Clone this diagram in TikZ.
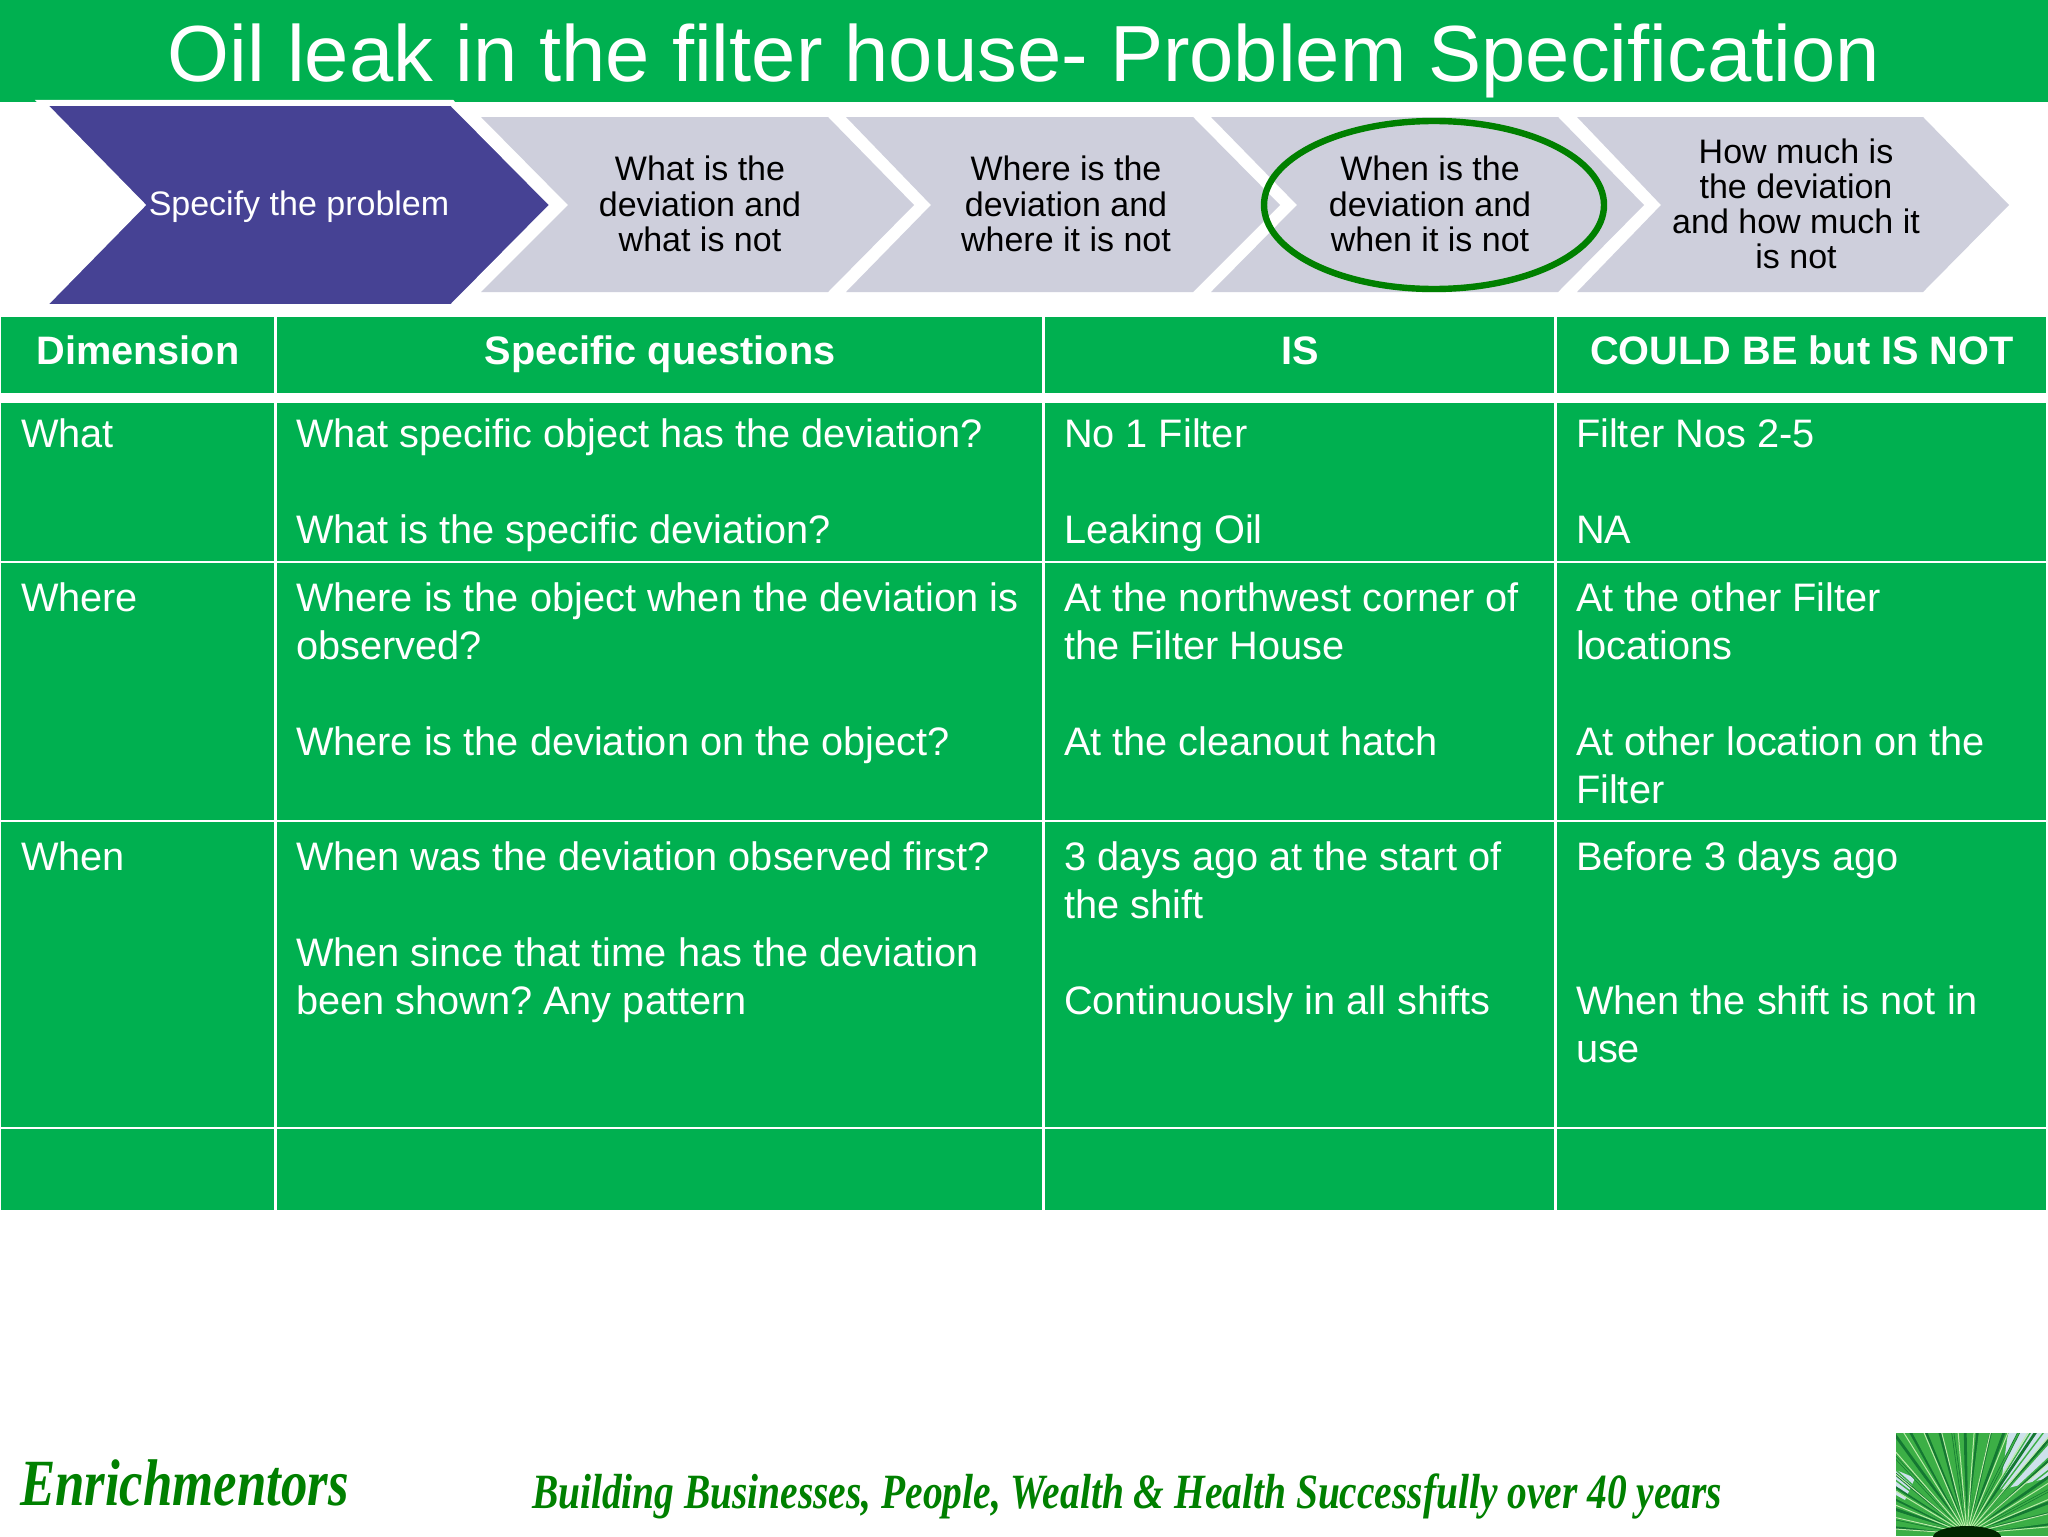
\documentclass[tikz,border=0pt]{standalone}
\usepackage{fontspec}
\setmainfont{Liberation Sans}
\newfontfamily\brushfont[FakeStretch=0.8]{Liberation Serif}
\usepackage{tikz}
\definecolor{tablegreen}{RGB}{0,176,80}
\definecolor{leafgreen}{RGB}{0,128,0}
\definecolor{stepgrey}{RGB}{206,207,220}
\definecolor{stepblue}{RGB}{70,66,148}
\definecolor{skyblue}{RGB}{205,225,235}
\definecolor{bladedark}{RGB}{20,120,50}
\definecolor{blademid}{RGB}{60,175,70}
\definecolor{bladelight}{RGB}{190,235,170}

\begin{document}
\frenchspacing
\begin{tikzpicture}[x=0.5pt,y=-0.5pt,inner sep=0pt,outer sep=0pt]
 \tikzstyle{stepfill}=[fill=stepgrey]
 \tikzstyle{steptext}=[font=\fontsize{17}{17.6}\selectfont,align=center,text=black]
 \tikzstyle{headtext}=[font=\fontsize{19.85}{23}\selectfont\bfseries,text=white,anchor=base]
 \tikzstyle{celltext}=[font=\fontsize{19.87}{23.9}\selectfont,text=white,align=left,anchor=north west]
 \tikzstyle{footertext}=[text=leafgreen,anchor=base west]
 \tikzstyle{rowline}=[white,line width=1.3pt]
 \tikzstyle{colline}=[white,line width=1.5pt]

 \useasboundingbox (0,0) rectangle (2048,1536);
 \fill[white] (0,0) rectangle (2048,1536);

 % title
 \fill[tablegreen] (0,0) rectangle (2048,102);
 \node[font=\fontsize{39.8}{46}\selectfont,text=white] (title) at (1024,61) {Oil leak in the filter house- Problem Specification};

 % steps
 \fill[stepfill] (481,117) -- (828,117) -- (914,205) -- (828,292) -- (481,292) -- (568,205) -- cycle;
 \fill[stepfill] (846,117) -- (1193,117) -- (1280,205) -- (1193,292) -- (846,292) -- (931,205) -- cycle;
 \fill[stepfill] (1211,117) -- (1558,117) -- (1644,205) -- (1558,292) -- (1211,292) -- (1297,205) -- cycle;
 \fill[stepfill] (1577,117) -- (1923,117) -- (2009,205) -- (1923,292) -- (1577,292) -- (1661,205) -- cycle;
 \filldraw[fill=stepblue,draw=white,line width=3pt,miter limit=3] (42,103) -- (452,103) -- (553,205) -- (452,307) -- (42,307) -- (142,205) -- cycle;

 \node[steptext,text=white] (specify) at (299,207) {Specify the problem};
 \node[steptext] (what) at (700,204) {What is the\\deviation and\\what is not};
 \node[steptext] (where) at (1066,204) {Where is the\\deviation and\\where it is not};
 \node[steptext] (when) at (1430,204) {When is the\\deviation and\\when it is not};
 \node[steptext] (howmuch) at (1796,204) {How much is\\the deviation\\and how much it\\is not};
 \draw[leafgreen,line width=3.2pt] (1434,205) ellipse (170 and 84);

 % table cells
 \fill[tablegreen] (1,317) rectangle (2046,393);
 \fill[tablegreen] (1,403) rectangle (2046,1210);
 \draw[rowline] (1,562) -- (2046,562);
 \draw[rowline] (1,821) -- (2046,821);
 \draw[rowline] (1,1128) -- (2046,1128);
 \draw[colline] (275,317) -- (275,393);
 \draw[colline] (1043,317) -- (1043,393);
 \draw[colline] (1555,317) -- (1555,393);
 \draw[colline] (275,403) -- (275,1210);
 \draw[colline] (1043,403) -- (1043,1210);
 \draw[colline] (1555,403) -- (1555,1210);

 % heading row
 \node[headtext] (dimension) at (138,364) {Dimension};
 \node[headtext] (questions) at (660,364) {Specific questions};
 \node[headtext] (is) at (1300,364) {IS};
 \node[headtext] (isnot) at (1802,364) {COULD BE but IS NOT};

 % what
 \node[celltext] (whatA) at (21,419) {What};
 \node[celltext] (whatB) at (296,419) {What specific object has the deviation?\\~\\What is the specific deviation?};
 \node[celltext] (whatC) at (1064,419) {No 1 Filter\\~\\Leaking Oil};
 \node[celltext] (whatD) at (1576,419) {Filter Nos 2-5\\~\\NA};
 % where
 \node[celltext] (whereA) at (21,583) {Where};
 \node[celltext] (whereB) at (296,583) {Where is the object when the deviation is\\observed?\\~\\Where is the deviation on the object?};
 \node[celltext] (whereC) at (1064,583) {At the northwest corner of\\the Filter House\\~\\At the cleanout hatch};
 \node[celltext] (whereD) at (1576,583) {At the other Filter\\locations\\~\\At other location on the\\Filter};
 % when
 \node[celltext] (whenA) at (21,842) {When};
 \node[celltext] (whenB) at (296,842) {When was the deviation observed first?\\~\\When since that time has the deviation\\been shown? Any pattern};
 \node[celltext] (whenC) at (1064,842) {3 days ago at the start of\\the shift\\~\\Continuously in all shifts};
 \node[celltext] (whenD) at (1576,842) {Before 3 days ago\\~\\~\\When the shift is not in\\use};

 % footer
 \node[footertext,font=\brushfont\bfseries\itshape\fontsize{33}{36}\selectfont] (brand) at (20,1505) {Enrichmentors};
 \node[footertext,font=\brushfont\bfseries\itshape\fontsize{24.65}{30}\selectfont] (slogan) at (532,1508) {Building Businesses, People, Wealth \& Health Successfully over 40 years};

 % plant photo
 \begin{scope}
  \clip (1896,1433) rectangle (2048,1536);
  \fill[blademid] (1896,1433) rectangle (2048,1536);
  \fill[skyblue] (2008,1433) -- (2048,1433) -- (2048,1478) -- (2000,1490) -- cycle;
  \fill[skyblue] (1896,1470) -- (1915,1478) -- (1905,1500) -- (1896,1495) -- cycle;
  \foreach \a in {-85,-78,...,85} {
   \draw[bladedark,line width=1.4pt] (1967,1534) -- ++(\a-90:170);
  }
  \foreach \a in {-88,-83,...,88} {
   \draw[blademid,line width=0.7pt] (1967,1534) -- ++(\a-90:170);
  }
  \foreach \a in {-86,-77,...,86} {
   \draw[bladelight,line width=0.5pt] (1967,1534) -- ++(\a-90:170);
  }
  \fill[black!85!green] (1967,1537) ellipse (34 and 11);
 \end{scope}
\end{tikzpicture}
\end{document}
